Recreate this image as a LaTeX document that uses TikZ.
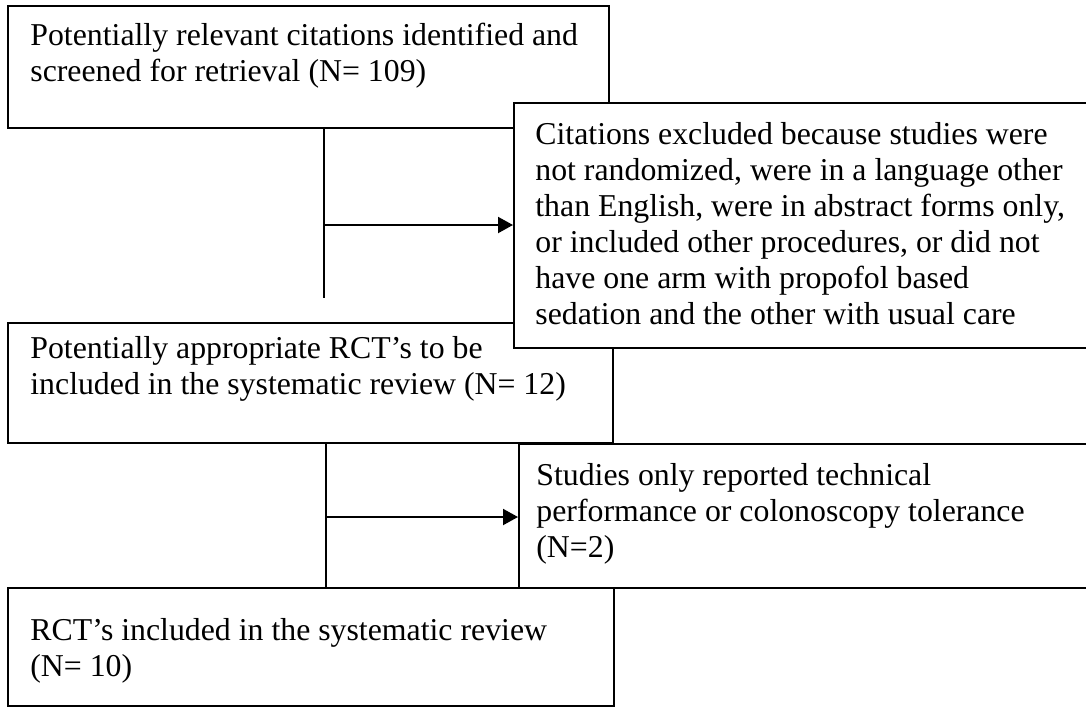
\documentclass[tikz,border=0pt]{standalone}
\usepackage{fontspec}
\setmainfont{Liberation Serif}
\usetikzlibrary{arrows.meta,calc}
\begin{document}
\begin{tikzpicture}[x=0.5pt,y=-0.5pt,
  box/.style={draw, line width=1pt, fill=white, rectangle, inner sep=0pt, anchor=north west},
  txt/.style={anchor=base west, align=left, inner sep=0pt, font=\fontsize{15.9}{18}\selectfont},
  link/.style={line width=1pt},
  arr/.style={line width=1pt, -{Triangle[length=7.5pt,width=8pt]}}]
\useasboundingbox (0,0) rectangle (1086,707);
\clip (0,0) rectangle (1086,707);
% boxes
\node[box, minimum width=300.5pt, minimum height=61pt] (b1) at (7,5) {};
\node[box, minimum width=302.5pt, minimum height=60pt] (b3) at (7,322) {};
\node[box, minimum width=303pt, minimum height=59pt] (b5) at (7,587) {};
\node[box, minimum width=293.5pt, minimum height=122.5pt] (b2) at (513,102) {};
\node[box, minimum width=291pt, minimum height=72pt] (b4) at (518,443) {};
% connectors
\coordinate (s1) at ([xshift=158.5pt]b1.south west);
\coordinate (e1) at (324,298);
\draw[link] (s1) -- (e1);
\coordinate (j1) at (324,225);
\draw[arr] (j1) -- (j1 -| b2.west);
\coordinate (s2) at ([xshift=159.5pt]b3.south west);
\draw[link] (s2) -- (s2 |- b5.north);
\coordinate (j2) at (326,517);
\draw[arr] (j2) -- (j2 -| b4.west);
% texts (anchored at the baseline of their last line)
\node[txt] (t1) at (30,81) {Potentially relevant citations identified and\\screened for retrieval (N= 109)};
\node[txt] (t2) at (535,324) {Citations excluded because studies were\\not randomized, were in a language other\\than English, were in abstract forms only,\\or included other procedures, or did not\\have one arm with propofol based\\sedation and the other with usual care};
\node[txt] (t3) at (30,394) {Potentially appropriate RCT’s to be\\included in the systematic review (N= 12)};
\node[txt] (t4) at (536,557) {Studies only reported technical\\performance or colonoscopy tolerance\\(N=2)};
\node[txt] (t5) at (30,676) {RCT’s included in the systematic review\\(N= 10)};
\end{tikzpicture}
\end{document}
